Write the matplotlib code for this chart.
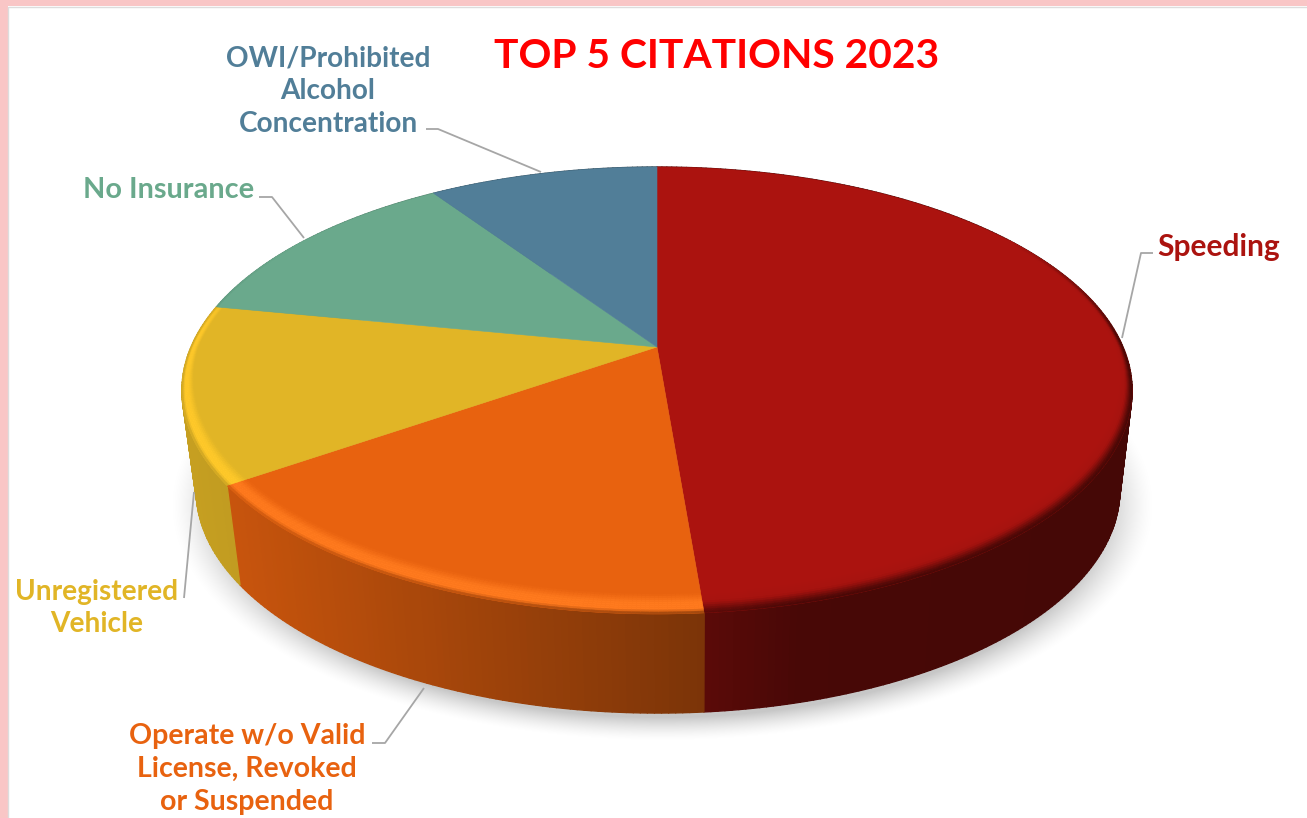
import matplotlib
matplotlib.use('Agg')
import matplotlib.pyplot as plt
from matplotlib.collections import PolyCollection
from matplotlib.patches import Polygon, Rectangle
import numpy as np

plt.rcParams['font.family'] = ['Lato', 'DejaVu Sans']

W, H = 1307, 818

categories = ['Speeding', 'Operate w/o Valid\nLicense, Revoked\nor Suspended',
              'Unregistered\nVehicle', 'No Insurance',
              'OWI/Prohibited\nAlcohol\nConcentration']
shares = [48.7, 16.6, 12.8, 12.5, 9.4]
title = 'TOP 5 CITATIONS 2023'

colors = ['#AB130F', '#E8620F', '#E1B526', '#6AA98C', '#517E98']
highlights = ['#AB130F', '#FF7A1E', '#FFC92A', '#6AA98C', '#517E98']

label_pos = [(1219, 247), (247, 769), (97, 608), (169, 190), (328, 91)]
label_sizes = [21.5, 20.5, 20.2, 20.8, 20.2]
leaders = [
    [(1153, 253), (1141, 253), (1122, 338)],
    [(372, 743), (385, 743), (424, 688)],
    [(184, 598), (194, 492)],
    [(259, 197), (272, 197), (304, 238)],
    [(426, 129), (438, 129), (541, 172)],
]


# perspective projection of a unit disc lying flat, tilted away from the viewer
def project(u, v, cx, cy, bx, ay, k):
    w = 1 + k * v
    return cx + bx * u / w, cy - ay * v / w


def top_xy(u, v):
    return project(u, v, 657, 347, 466, 215, 0.1946)


def bottom_xy(u, v):
    return project(u, v, 658, 446.6, 453, 214.6, 0.1946)


def rgb(c):
    return np.array(matplotlib.colors.to_rgb(c))


# darkening of the side wall from left to right
def side_shade(x):
    return np.interp(x, [180, 230, 705, 800, 1140], [0.88, 0.86, 0.53, 0.42, 0.40])


fig = plt.figure(figsize=(W / 100, H / 100), dpi=100, facecolor='white')
ax = fig.add_axes([0, 0, 1, 1])
ax.set_xlim(0, W)
ax.set_ylim(H, 0)
ax.axis('off')

# pink frame
ax.add_patch(Rectangle((0, 0), W, 6, fc='#F9C6C6', ec='none', zorder=0))
ax.add_patch(Rectangle((0, 0), 8, H, fc='#F9C6C6', ec='none', zorder=0))
ax.plot([8, 8, W], [H, 6.5, 6.5], color='#DDDDDD', lw=1, zorder=0.5)

# soft drop shadow
yy, xx = np.mgrid[0:H, 0:W]
d = np.sqrt(((xx - 662) / 468.0) ** 2 + ((yy - 505) / 224.0) ** 2)
dist = (d - 1) * 240
alpha = np.clip(0.5 - dist / 26.0, 0, 1) ** 1.5 * 0.22
shadow = np.zeros((H, W, 4))
shadow[..., 3] = alpha
ax.imshow(shadow, extent=(0, W, H, 0), zorder=1, aspect='auto', interpolation='bilinear')
ax.set_xlim(0, W)
ax.set_ylim(H, 0)

edges = np.cumsum([0] + shares) / sum(shares) * 2 * np.pi

# side wall
side_quads, side_cols = [], []
for i in range(len(shares)):
    n = max(int(shares[i] * 5), 8)
    th = np.linspace(edges[i], edges[i + 1], n + 1)
    u, v = np.sin(th), np.cos(th)
    tx, ty = top_xy(u, v)
    bx, by = bottom_xy(u, v)
    for j in range(n):
        side_quads.append([(tx[j], ty[j]), (tx[j + 1], ty[j + 1]), (bx[j + 1], by[j + 1]), (bx[j], by[j])])
        side_cols.append(np.clip(rgb(colors[i]) * side_shade((tx[j] + tx[j + 1]) / 2), 0, 1))
ax.add_collection(PolyCollection(side_quads, facecolors=side_cols, edgecolors=side_cols, linewidths=1.0, zorder=2))

# top face slices
cx0, cy0 = top_xy(0.0, 0.0)
for i in range(len(shares)):
    th = np.linspace(edges[i], edges[i + 1], 200)
    x, y = top_xy(np.sin(th), np.cos(th))
    pts = np.column_stack([np.r_[cx0, x], np.r_[cy0, y]])
    ax.add_patch(Polygon(pts, closed=True, fc=colors[i], ec=colors[i], lw=0.4, zorder=3))

# bevel around the rim of the top face
stops = np.linspace(0, 1, 11)
hi_profile = np.interp(stops, [0, 0.45, 0.8, 1], [0, 1, 1, 0.7])
dark_light = np.interp(stops, [0, 0.8, 1], [0, 0, 0.9])
dark_red = np.interp(stops, [0, 0.45, 0.9, 1], [0, 0.05, 0.95, 1])
bevel_quads, bevel_cols = [], []
for i in range(len(shares)):
    n = max(int(shares[i] * 8), 8)
    th = np.linspace(edges[i], edges[i + 1], n + 1)
    base, light = rgb(colors[i]), rgb(highlights[i])
    dark = dark_red if i == 0 else dark_light
    for j in range(n):
        a0, a1 = th[j], th[j + 1]
        am = (a0 + a1) / 2
        vm = np.cos(am)
        strength = np.clip((0.55 - vm) / 0.5, 0, 1)
        if strength <= 0:
            continue
        w0 = 0.016 + 0.045 * max(0, -np.cos(a0))
        w1 = 0.016 + 0.045 * max(0, -np.cos(a1))
        xm, _ = top_xy(np.sin(am), vm)
        side = base * side_shade(xm)
        for s in range(len(stops) - 1):
            r00, r01 = 1 - w0 * (1 - stops[s]), 1 - w0 * (1 - stops[s + 1])
            r10, r11 = 1 - w1 * (1 - stops[s]), 1 - w1 * (1 - stops[s + 1])
            p = [top_xy(r00 * np.sin(a0), r00 * np.cos(a0)), top_xy(r10 * np.sin(a1), r10 * np.cos(a1)),
                 top_xy(r11 * np.sin(a1), r11 * np.cos(a1)), top_xy(r01 * np.sin(a0), r01 * np.cos(a0))]
            h = (hi_profile[s] + hi_profile[s + 1]) / 2
            dk = (dark[s] + dark[s + 1]) / 2
            c = base + (light - base) * h * strength
            c = c + (side - c) * dk * strength
            bevel_quads.append(p)
            bevel_cols.append(np.clip(c, 0, 1))
ax.add_collection(PolyCollection(bevel_quads, facecolors=bevel_cols, edgecolors=bevel_cols, linewidths=0.3, zorder=4))

# leader lines and labels
for pts in leaders:
    xs, ys = zip(*pts)
    ax.plot(xs, ys, color='#A6A6A6', lw=1.3, zorder=5, solid_capstyle='butt')

for name, (lx, ly), c, fs in zip(categories, label_pos, colors, label_sizes):
    ax.text(lx, ly, name, color=c, fontsize=fs, fontweight='bold', ha='center', va='center',
            linespacing=1.32, zorder=6)

ax.text(717, 56, title, color='#FF0000', fontsize=29.3, fontweight='bold', ha='center', va='center', zorder=6)

fig.savefig('out.png', dpi=100, facecolor='white')
